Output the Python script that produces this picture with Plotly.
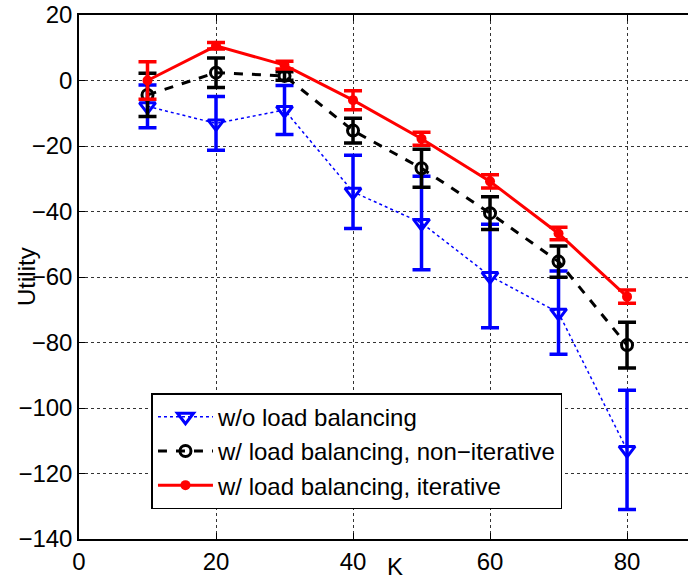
import plotly.graph_objects as go

K = [10, 20, 30, 40, 50, 60, 70, 80]

wo_lb = [-7.9, -13.1, -9.0, -34.0, -43.5, -59.7, -70.9, -112.8]
wo_lb_err = [6.5, 8.2, 7.5, 11.2, 14.3, 15.8, 12.7, 18.2]

lb_noniter = [-4.4, 2.4, 1.4, -15.3, -26.8, -40.5, -55.3, -80.8]
lb_noniter_err = [6.6, 4.5, 1.3, 3.8, 5.8, 5.0, 4.8, 7.0]

lb_iter = [0.0, 10.6, 4.7, -6.0, -17.8, -30.8, -46.7, -66.0]
lb_iter_err = [5.7, 1.0, 1.2, 2.9, 2.0, 2.0, 1.9, 2.0]

names = ["w/o load balancing", "w/ load balancing, non\u2212iterative", "w/ load balancing, iterative"]

FONT = "Liberation Sans, Arial, sans-serif"
FS = 24

fig = go.Figure()

fig.add_trace(go.Scatter(
    x=K, y=wo_lb, name=names[0], mode="lines+markers",
    line=dict(color="#0000ff", width=1.5, dash="dot"),
    marker=dict(symbol="triangle-down-open", size=14, color="#0000ff", line=dict(width=3, color="#0000ff")),
    error_y=dict(type="data", array=wo_lb_err, visible=True, color="#0000ff", thickness=3.5, width=9),
))
fig.add_trace(go.Scatter(
    x=K, y=lb_noniter, name=names[1], mode="lines+markers",
    line=dict(color="black", width=3, dash="dash"),
    marker=dict(symbol="circle-open", size=11, color="black", line=dict(width=3, color="black")),
    error_y=dict(type="data", array=lb_noniter_err, visible=True, color="black", thickness=3.5, width=9),
))
fig.add_trace(go.Scatter(
    x=K, y=lb_iter, name=names[2], mode="lines+markers",
    line=dict(color="#ff0000", width=3),
    marker=dict(symbol="circle", size=10, color="#ff0000"),
    error_y=dict(type="data", array=lb_iter_err, visible=True, color="#ff0000", thickness=3.5, width=9),
))

fig.update_layout(
    width=688, height=579,
    margin=dict(l=79, r=0, t=15, b=40),
    plot_bgcolor="white", paper_bgcolor="white",
    font=dict(family=FONT, size=FS, color="black"),
    showlegend=True,
    legend=dict(
        x=0.119, y=0.057, xanchor="left", yanchor="bottom",
        bgcolor="white", bordercolor="black", borderwidth=1.5,
        font=dict(family=FONT, size=FS, color="black"),
        tracegroupgap=0, itemsizing="trace", itemwidth=55,
    ),
    xaxis=dict(
        range=[0, 88.9], tickvals=[0, 20, 40, 60, 80],
        ticks="inside", ticklen=6, tickcolor="black",
        showline=True, linecolor="black", linewidth=1.5, mirror="ticks",
        showgrid=True, gridcolor="#333333", griddash="dot", gridwidth=1,
        zeroline=False,
        tickfont=dict(family=FONT, size=FS),
    ),
    yaxis=dict(
        range=[-140, 20], tickvals=[20, 0, -20, -40, -60, -80, -100, -120, -140],
        ticks="inside", ticklen=6, tickcolor="black",
        showline=True, linecolor="black", linewidth=1.5,
        showgrid=True, gridcolor="#333333", griddash="dot", gridwidth=1,
        zeroline=False,
        tickfont=dict(family=FONT, size=FS),
    ),
    annotations=[
        dict(text="K", xref="paper", yref="paper", x=(395 - 79) / 609, y=-(566 - 539) / 524,
             xanchor="center", yanchor="middle", showarrow=False, font=dict(family=FONT, size=FS)),
        dict(text="Utility", xref="paper", yref="paper", x=-(79 - 26) / 609, y=(539 - 277) / 524,
             xanchor="center", yanchor="middle", showarrow=False, textangle=-90, font=dict(family=FONT, size=FS)),
    ],
)

fig.write_html("out.html")
